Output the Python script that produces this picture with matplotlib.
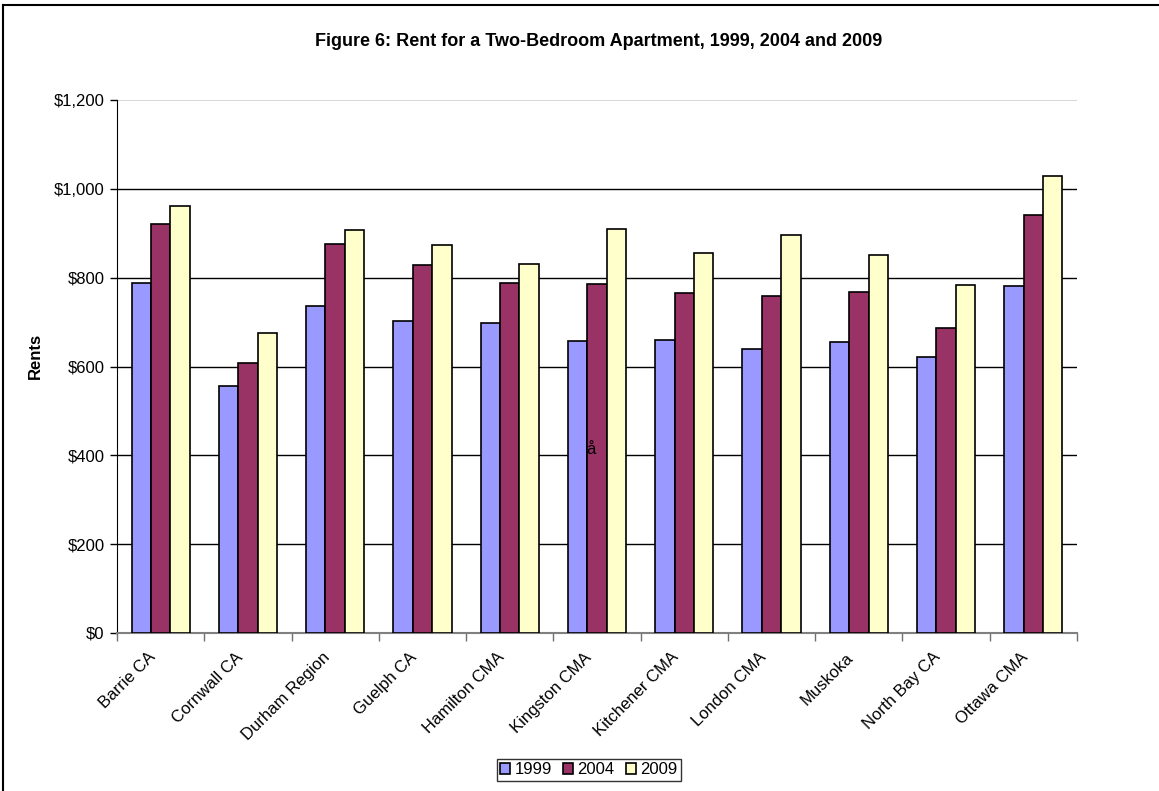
import matplotlib.pyplot as plt
import numpy as np
from matplotlib.ticker import FuncFormatter, FixedLocator

plt.rcParams["font.family"] = ["Liberation Sans", "DejaVu Sans"]

regions = ["Barrie CA", "Cornwall CA", "Durham Region", "Guelph CA", "Hamilton CMA",
           "Kingston CMA", "Kitchener CMA", "London CMA", "Muskoka", "North Bay CA",
           "Ottawa CMA"]
rent_1999 = [788, 556, 737, 702, 698, 657, 659, 639, 656, 621, 782]
rent_2004 = [921, 608, 876, 828, 789, 785, 765, 758, 767, 687, 941]
rent_2009 = [961, 676, 907, 874, 830, 910, 856, 897, 851, 783, 1029]
years = ["1999", "2004", "2009"]
colors = ["#9999FF", "#993366", "#FFFFCC"]

W, H = 1159, 791
fig = plt.figure(figsize=(W / 100, H / 100), dpi=100)

# outer chart border (left and top edges visible)
fig.add_artist(plt.Line2D([3 / W, 3 / W], [0, 1 - 5 / H], color="black", lw=1.5,
                          transform=fig.transFigure))
fig.add_artist(plt.Line2D([3 / W, 1], [1 - 5 / H, 1 - 5 / H], color="black", lw=1.5,
                          transform=fig.transFigure))

ax = fig.add_axes([117 / W, 1 - 633 / H, (1077 - 117) / W, (633 - 100) / H])

x = np.arange(len(regions))
w = 1 / 4.5
for i, (vals, yr, c) in enumerate(zip([rent_1999, rent_2004, rent_2009], years, colors)):
    ax.bar(x + (i - 1) * w, vals, width=w, color=c, edgecolor="black", linewidth=1.2,
           label=yr, zorder=3)

ax.set_xlim(-0.5, len(regions) - 0.5)
ax.set_ylim(0, 1200)
ax.set_yticks(np.arange(0, 1201, 200))
ax.yaxis.set_major_formatter(FuncFormatter(lambda v, p: f"${v:,.0f}"))
for yv in range(200, 1001, 200):
    ax.axhline(yv, color="black", lw=1.0, zorder=1)
ax.axhline(1200, color="#d0d0d0", lw=1.2, zorder=1)

# category labels sit a little left of the group centre
ax.set_xticks(x - 0.15)
ax.set_xticklabels(regions, rotation=45, ha="right", rotation_mode="anchor", fontsize=12)
ax.tick_params(axis="x", length=0, pad=12)
ax.xaxis.set_minor_locator(FixedLocator(np.arange(-0.5, len(regions), 1)))
ax.tick_params(axis="x", which="minor", length=6, color="#707070", width=1)
ax.tick_params(axis="y", length=5, width=1, labelsize=12, pad=4)

for s in ("top", "right"):
    ax.spines[s].set_visible(False)
ax.spines["left"].set_color("black")
ax.spines["bottom"].set_color("#808080")
ax.spines["bottom"].set_linewidth(1.5)

fig.text(35 / W, 1 - 356 / H, "Rents", rotation=90, ha="center", va="center",
         fontsize=12, fontweight="bold")

fig.text(599 / W, 1 - 42 / H, "Figure 6: Rent for a Two-Bedroom Apartment, 1999, 2004 and 2009",
         ha="center", va="center", fontsize=13, fontweight="bold")
fig.text(591 / W, 1 - 450 / H, "å", ha="center", va="center", fontsize=12)

leg = fig.legend(loc="center", bbox_to_anchor=(589 / W, 1 - 770 / H), ncol=3,
                 frameon=True, fancybox=False, edgecolor="black", fontsize=12,
                 handlelength=0.6, handleheight=0.6, handletextpad=0.25,
                 columnspacing=0.7, borderpad=0.2, borderaxespad=0)
leg.get_frame().set_linewidth(1.0)

fig.savefig("out.png", dpi=100)
